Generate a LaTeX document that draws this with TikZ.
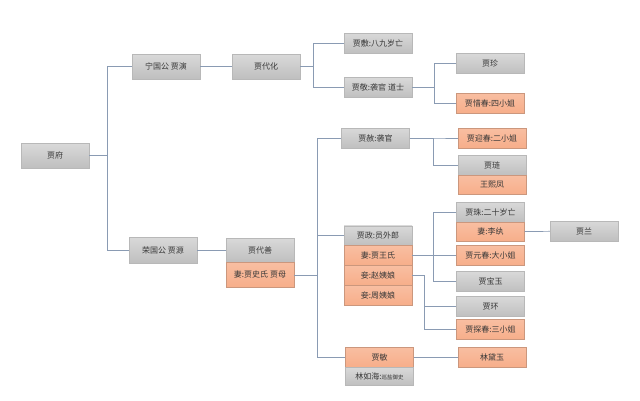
\documentclass[tikz,border=0pt]{standalone}
\usepackage{fontspec}
\setmainfont{Noto Sans CJK SC}
\usetikzlibrary{positioning}
\definecolor{boxgrey}{HTML}{C9C9C9}
\definecolor{boxpeach}{HTML}{F7AE8A}
\definecolor{linkblue}{HTML}{8A9BB3}

\begin{document}
\begin{tikzpicture}[x=1pt,y=-1pt,
    grey/.style = {draw=black!28, top color=black!15, bottom color=black!25, text=black!78, minimum width=68pt, minimum height=20pt, inner sep=0pt, font=\fontsize{8}{9}\selectfont},
    peach/.style = {grey, draw=boxpeach!80!black!90, top color=boxpeach!80, bottom color=boxpeach},
    link/.style = {draw=linkblue, line width=0.7pt},
    node distance=0pt]
        \useasboundingbox (0,0) rectangle (640,400);
        % left side
        \node[grey, minimum height=25pt] (1) at (55,155.5) {贾府};
        \node[grey, minimum height=25pt] (2) at (166,66.5) {宁国公 贾演};
        \node[grey, minimum height=25pt] (3) at (266,66.5) {贾代化};
        \node[grey] (4) at (378,43) {贾敷:八九岁亡};
        \node[grey] (5) at (378,87.5) {贾敬:袭官 道士};
        \node[grey] (6) at (490,63.5) {贾珍};
        \node[peach] (7) at (490,103) {贾惜春:四小姐};
        \node[grey, minimum height=26pt] (8) at (163,250) {荣国公 贾源};
        \node[grey, minimum height=24pt] (9) at (260,250) {贾代善};
        \node[peach, minimum height=25pt] (10) [below=of 9] {妻:贾史氏 贾母};
        % middle column
        \node[grey] (11) at (375.5,138) {贾赦:袭官};
        \node[grey, minimum height=19.5pt] (12) at (378,235.5) {贾政:员外郎};
        \node[peach, minimum height=19.5pt] (13) [below=of 12] {妻:贾王氏};
        \node[peach, minimum height=19.5pt] (14) [below=of 13] {妾:赵姨娘};
        \node[peach, minimum height=19.5pt] (15) [below=of 14] {妾:周姨娘};
        \node[peach] (16) at (379.5,357) {贾敏};
        \node[grey, minimum height=18pt] (17) [below=of 16] {林如海:{\fontsize{5.5}{7}\selectfont 巡盐御史}};
        % right column
        \node[peach] (18) at (492,138) {贾迎春:二小姐};
        \node[grey] (19) at (492,165) {贾琏};
        \node[peach, minimum height=19pt] (20) [below=of 19] {王熙凤};
        \node[grey] (21) at (490.5,212) {贾珠:二十岁亡};
        \node[peach, minimum height=19pt] (22) [below=of 21] {妻:李纨};
        \node[grey] (23) at (584,231) {贾兰};
        \node[peach] (24) at (490.5,255.5) {贾元春:大小姐};
        \node[grey] (25) at (490.5,281.5) {贾宝玉};
        \node[grey] (26) at (490.5,306.5) {贾环};
        \node[peach] (27) at (490.5,329.5) {贾探春:三小姐};
        \node[peach] (28) at (492,357) {林黛玉};
        % connectors
        \draw[link] (1.east) -- ++(18,0) |- (2.west);
        \draw[link] (1.east) -- ++(18,0) |- (8.west);
        \draw[link] (2) -- (3);
        \draw[link] (3.east) -- ++(13,0) |- (4.west);
        \draw[link] (3.east) -- ++(13,0) |- (5.west);
        \draw[link] (5.east) -- ++(22,0) |- (6.west);
        \draw[link] (5.east) -- ++(22,0) |- (7.west);
        \draw[link] (8) -- (9);
        \draw[link] (10.east) -- ++(23,0) |- (11.west);
        \draw[link] (10.east) -- ++(23,0) |- (12.west);
        \draw[link] (10.east) -- ++(23,0) |- (16.west);
        \draw[link] (11.east) -- ++(24,0) |- (18.west);
        \draw[link] (11.east) -- ++(24,0) |- (19.west);
        \draw[link] (13.east) -- ++(21,0) |- (21.west);
        \draw[link] (13.east) -- ++(21,0) |- (24.west);
        \draw[link] (13.east) -- ++(21,0) |- (25.west);
        \draw[link] (14.east) -- ++(12,0) |- (26.west);
        \draw[link] (14.east) -- ++(12,0) |- (27.west);
        \draw[link] (22) -- (23);
        \draw[link] (16) -- (28);
\end{tikzpicture}
\end{document}
